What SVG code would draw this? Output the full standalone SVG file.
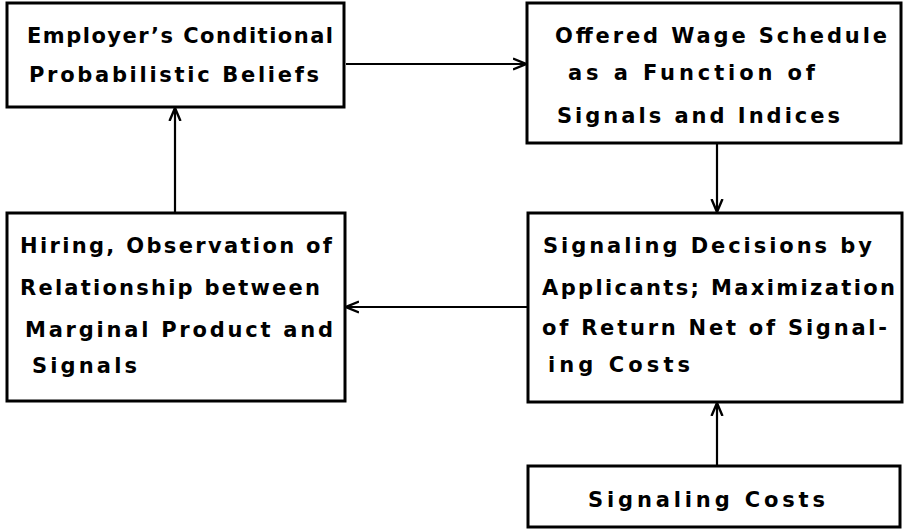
<svg xmlns="http://www.w3.org/2000/svg" width="904" height="529" viewBox="0 0 904 529">
<defs>
<style>
.box{fill:#fff;stroke:#000;stroke-width:3}
.t{font-family:"DejaVu Sans","Liberation Sans",sans-serif;font-weight:bold;font-size:21px;fill:#000}
.c{fill:none;stroke:#000;stroke-width:2.2}
</style>
<marker id="ah" viewBox="0 0 14 14" refX="13" refY="7" markerWidth="14" markerHeight="14" markerUnits="userSpaceOnUse" orient="auto">
<path d="M0,1.5 L13,7 L0,12.5" fill="none" stroke="#000" stroke-width="2.4"/>
</marker>
</defs>
<rect width="904" height="529" fill="#fff"/>
<g id="connectors">
<line class="c" x1="346" y1="64" x2="526" y2="64" marker-end="url(#ah)"/>
<line class="c" x1="717" y1="143" x2="717" y2="212" marker-end="url(#ah)"/>
<line class="c" x1="528" y1="307" x2="346" y2="307" marker-end="url(#ah)"/>
<line class="c" x1="175" y1="213" x2="175" y2="108" marker-end="url(#ah)"/>
<line class="c" x1="717" y1="466" x2="717" y2="403" marker-end="url(#ah)"/>
</g>
<g id="beliefs">
<rect class="box" x="7" y="3" width="337" height="104"/>
<text class="t" x="27" y="43" textLength="306" lengthAdjust="spacing">Employer’s Conditional</text>
<text class="t" x="29" y="82" textLength="290" lengthAdjust="spacing">Probabilistic Beliefs</text>
</g>
<g id="wage">
<rect class="box" x="527" y="3" width="374" height="140"/>
<text class="t" x="555" y="43" textLength="332" lengthAdjust="spacing">Offered Wage Schedule</text>
<text class="t" x="568" y="80" textLength="247" lengthAdjust="spacing">as a Function of</text>
<text class="t" x="557" y="123" textLength="283" lengthAdjust="spacing">Signals and Indices</text>
</g>
<g id="hiring">
<rect class="box" x="7" y="213" width="338" height="188"/>
<text class="t" x="20" y="253" textLength="312" lengthAdjust="spacing">Hiring, Observation of</text>
<text class="t" x="20" y="295" textLength="300" lengthAdjust="spacing">Relationship between</text>
<text class="t" x="25" y="337" textLength="308" lengthAdjust="spacing">Marginal Product and</text>
<text class="t" x="32" y="373" textLength="105" lengthAdjust="spacing">Signals</text>
</g>
<g id="decisions">
<rect class="box" x="528" y="213" width="374" height="189"/>
<text class="t" x="543" y="253" textLength="329" lengthAdjust="spacing">Signaling Decisions by</text>
<text class="t" x="542" y="295" textLength="353" lengthAdjust="spacing">Applicants; Maximization</text>
<text class="t" x="542" y="335" textLength="345" lengthAdjust="spacing">of Return Net of Signal-</text>
<text class="t" x="548" y="372" textLength="142" lengthAdjust="spacing">ing Costs</text>
</g>
<g id="costs">
<rect class="box" x="528" y="466" width="372" height="61"/>
<text class="t" x="588" y="507" textLength="237" lengthAdjust="spacing">Signaling Costs</text>
</g>
</svg>
